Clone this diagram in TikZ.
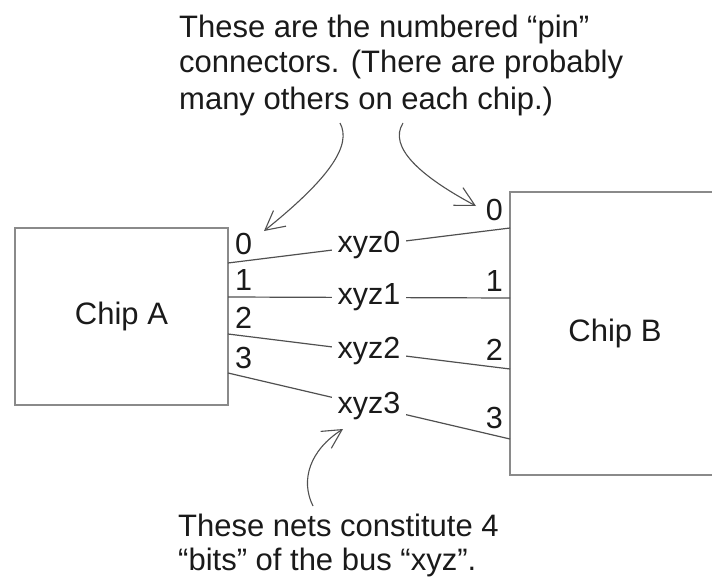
\documentclass[tikz,border=0pt]{standalone}
\usepackage{fontspec}
\setmainfont{Liberation Sans}
\usetikzlibrary{arrows.meta}
\definecolor{boxgray}{HTML}{8A8A8A}
\definecolor{wiregray}{HTML}{505050}
\definecolor{txt}{HTML}{1A1A1A}
\tikzset{
  chip/.style={draw=boxgray, line width=2pt, fill=white, inner sep=0pt, text=txt,
    font=\fontsize{31}{36}\selectfont},
  pinnum/.style={inner sep=0pt, text=txt, font=\fontsize{30.5}{36}\selectfont},
  wire/.style={draw=wiregray, line width=1.2pt},
  netlabel/.style={fill=white, inner xsep=6pt, inner ysep=1pt, text=txt,
    font=\fontsize{30.5}{36}\selectfont},
  note/.style={inner sep=0pt, align=left, text=txt},
  pointer/.style={draw=wiregray, line width=1.1pt,
    -{Straight Barb[length=19pt,width=20pt,line width=1.1pt]}},
}
\begin{document}
\begin{tikzpicture}[x=1pt,y=-1pt]
\clip (0,0) rectangle (712,578);
\fill[white] (0,0) rectangle (712,578);

% chips
\node[chip, minimum width=213pt, minimum height=177pt] (chipA) at (121.5,316.5) {Chip A};
\node[chip, minimum width=210pt, minimum height=283pt] (chipB) at (615,333.5) {Chip B};

% pin coordinates
\coordinate (a0) at (228,263);
\coordinate (a1) at (228,297);
\coordinate (a2) at (228,334);
\coordinate (a3) at (228,373);
\coordinate (b0) at (510,228);
\coordinate (b1) at (510,298);
\coordinate (b2) at (510,369);
\coordinate (b3) at (510,439);

% nets
\draw[wire] (a0) -- node[netlabel] (n0) {xyz0} (b0);
\draw[wire] (a1) -- node[netlabel] (n1) {xyz1} (b1);
\draw[wire] (a2) -- node[netlabel] (n2) {xyz2} (b2);
\draw[wire] (a3) -- node[netlabel] (n3) {xyz3} (b3);

% pin numbers
\node[pinnum, anchor=base west] (pa0) at (235,254) {0};
\node[pinnum, anchor=base west] (pa1) at (235,290) {1};
\node[pinnum, anchor=base west] (pa2) at (235,328) {2};
\node[pinnum, anchor=base west] (pa3) at (235,368) {3};
\node[pinnum, anchor=base east] (pb0) at (503,220) {0};
\node[pinnum, anchor=base east] (pb1) at (503,291) {1};
\node[pinnum, anchor=base east] (pb2) at (503,360) {2};
\node[pinnum, anchor=base east] (pb3) at (503,428) {3};

% notes (base anchor = baseline of last line)
\node[note, anchor=base west, font=\fontsize{31}{36}\selectfont] (top) at (179,109)
  {These are the numbered “pin”\\connectors. (There are probably\\many others on each chip.)};
\node[note, anchor=base west, font=\fontsize{31}{34}\selectfont] (bottom) at (178,570)
  {These nets constitute 4\\“bits” of the bus “xyz”.};

% pointer arrows
\coordinate (s1) at (340,123);
\coordinate (e1) at (264,231);
\coordinate (s2) at (403,123);
\coordinate (e2) at (476,206);
\coordinate (s3) at (313,506);
\coordinate (e3) at (343,429);
\draw[pointer] (s1) .. controls (352,145) and (330,178) .. (e1);
\draw[pointer] (s2) .. controls (388,147) and (420,176) .. (e2);
\draw[pointer] (s3) .. controls (300,480) and (310,450) .. (e3);
\end{tikzpicture}
\end{document}
